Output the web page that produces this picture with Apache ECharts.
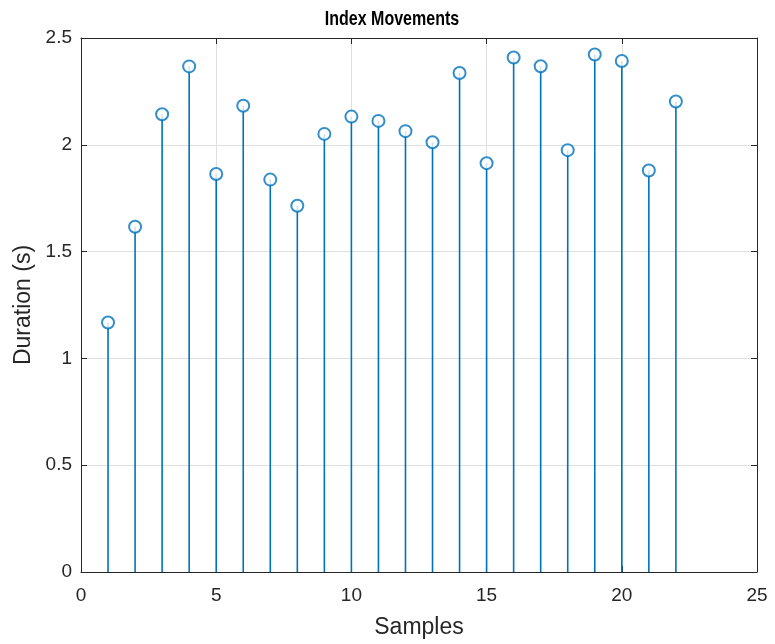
<!DOCTYPE html>
<html>
<head>
<meta charset="utf-8">
<script src="https://cdn.jsdelivr.net/npm/echarts@6/dist/echarts.min.js"></script>
<style>
html,body{margin:0;padding:0;background:#fff;}
#chart{width:775px;height:644px;}
</style>
</head>
<body>
<div id="chart"></div>
<script>
const samples = [1,2,3,4,5,6,7,8,9,10,11,12,13,14,15,16,17,18,19,20,21,22];
const durations = [1.168,1.616,2.143,2.367,1.863,2.183,1.837,1.715,2.051,2.132,2.112,2.064,2.012,2.336,1.914,2.409,2.368,1.975,2.423,2.392,1.880,2.203];
const xTicks = [0,5,10,15,20,25];
const yTicks = [0,0.5,1,1.5,2,2.5];
const titleText = 'Index Movements';

const points = samples.map((s,i)=>[s,durations[i]]);
const blue = '#0072BD';
const axisColor = '#262626';
const fontFam = 'Liberation Sans, Arial, Helvetica, sans-serif';

const chart = echarts.init(document.getElementById('chart'), null, {renderer:'canvas'});
const baseAxis = {
  axisLine:{show:true,onZero:false,lineStyle:{color:axisColor,width:1}},
  axisTick:{show:true,inside:true,length:6,lineStyle:{color:axisColor,width:1}},
  axisLabel:{color:axisColor,fontSize:19,fontFamily:fontFam},
  splitLine:{show:true,lineStyle:{color:'#dfdfdf',width:1}}
};
chart.setOption({
  animation:false,
  backgroundColor:'#fff',
  graphic:[{
    type:'text',
    x:392, y:19,
    scaleX:1, scaleY:1.3,
    style:{text:titleText,fontSize:16,fontWeight:'bold',fontFamily:fontFam,fill:'#000',
      textAlign:'center',textVerticalAlign:'middle',align:'center',verticalAlign:'middle'}
  }],
  grid:{left:81,right:18,top:38,bottom:70,containLabel:false},
  xAxis:[
    Object.assign({},baseAxis,{type:'value',min:xTicks[0],max:xTicks[xTicks.length-1],interval:5,position:'bottom',
      name:'Samples',nameLocation:'middle',nameGap:44,
      nameTextStyle:{fontSize:23,color:axisColor,fontFamily:fontFam},
      axisLabel:Object.assign({},baseAxis.axisLabel,{margin:14})}),
    Object.assign({},baseAxis,{type:'value',min:xTicks[0],max:xTicks[xTicks.length-1],interval:5,position:'top',
      axisLabel:{show:false},splitLine:{show:false}})
  ],
  yAxis:[
    Object.assign({},baseAxis,{type:'value',min:yTicks[0],max:yTicks[yTicks.length-1],interval:0.5,position:'left',
      name:'Duration (s)',nameLocation:'middle',nameGap:43,
      nameTextStyle:{fontSize:23,color:axisColor,fontFamily:fontFam},
      axisLabel:Object.assign({},baseAxis.axisLabel,{margin:9,padding:[4,0,0,0]})}),
    Object.assign({},baseAxis,{type:'value',min:yTicks[0],max:yTicks[yTicks.length-1],interval:0.5,position:'right',
      axisLabel:{show:false},splitLine:{show:false}})
  ],
  series:[
    {
      type:'custom',
      xAxisIndex:0,yAxisIndex:0,
      data:points,
      renderItem:function(params,api){
        const top = api.coord([api.value(0),api.value(1)]);
        const bot = api.coord([api.value(0),0]);
        return {type:'line',shape:{x1:top[0],y1:top[1],x2:bot[0],y2:bot[1]},
          style:{stroke:blue,lineWidth:1.6}};
      },
      z:2
    },
    {
      type:'scatter',
      xAxisIndex:0,yAxisIndex:0,
      data:points,
      symbol:'emptyCircle',
      symbolSize:12,
      itemStyle:{color:blue,borderColor:blue,borderWidth:1.5},
      z:3
    }
  ]
});
</script>
</body>
</html>
